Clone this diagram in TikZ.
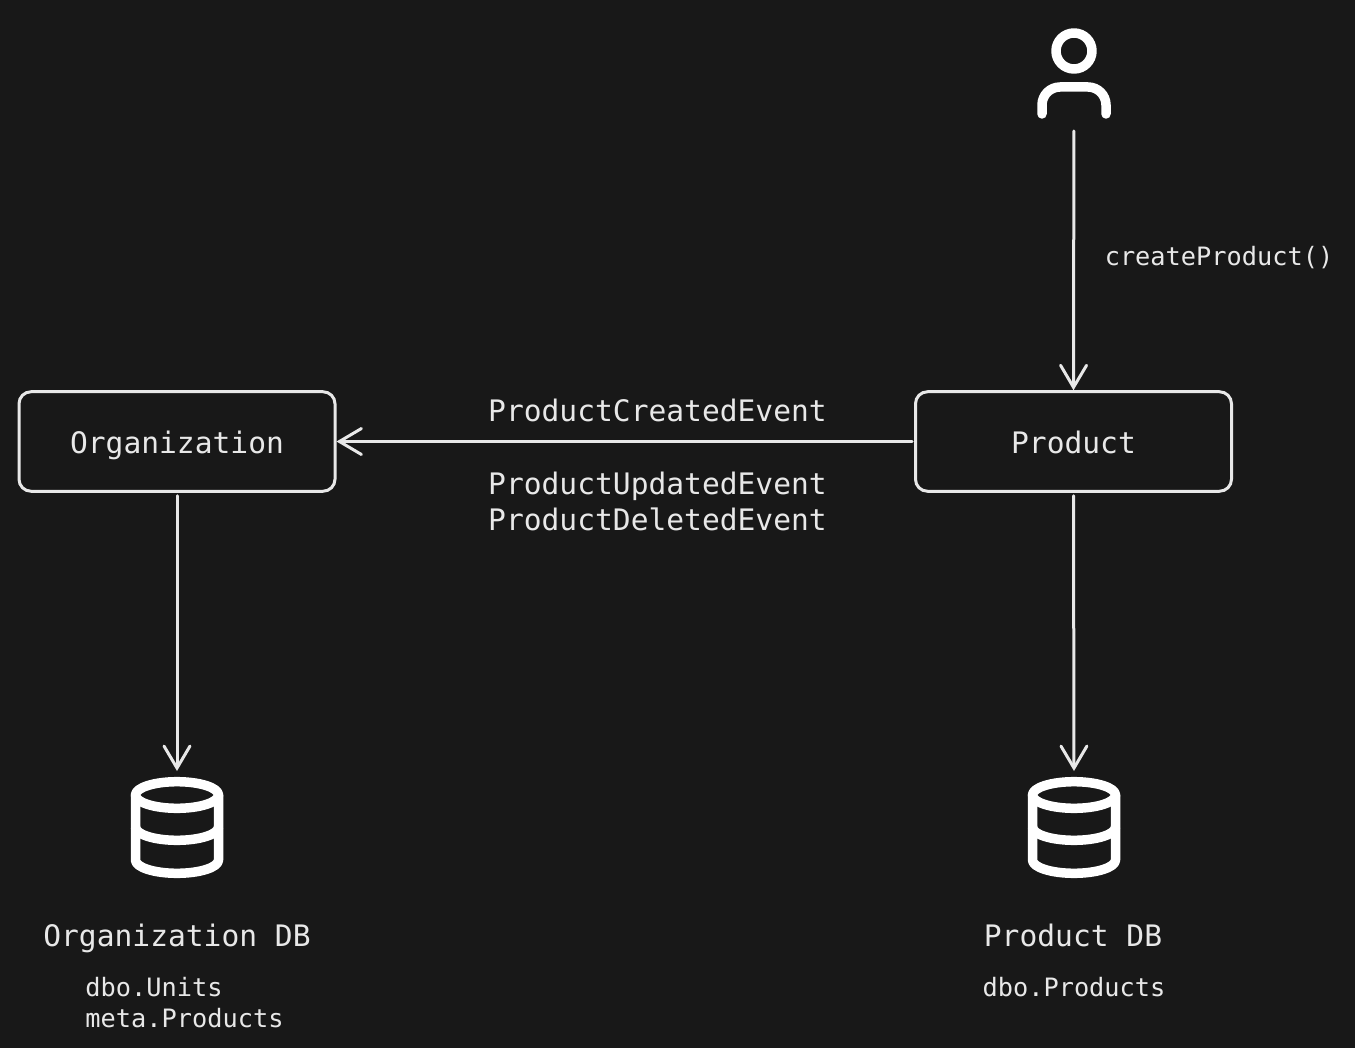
\documentclass[tikz,border=0pt]{standalone}
\usepackage{fontspec}
\setmonofont{DejaVu Sans Mono}
\usetikzlibrary{positioning, arrows.meta, calc}
\definecolor{kanvas}{HTML}{181818}
\definecolor{garis}{HTML}{E8E8E8}
\begin{document}
\begin{tikzpicture}[
		x=1pt, y=-1pt,
		kotak/.style={draw=garis, rectangle, rounded corners=12pt, minimum width=316pt, minimum height=99.5pt, inner sep=0pt, line width=3pt, text=garis, text height=24pt, text depth=0pt, font=\ttfamily\fontsize{29.6}{36.5}\selectfont},
		ikon/.style={rectangle, minimum width=92pt, inner sep=0pt, outer sep=0pt},
		judul/.style={text=garis, align=center, inner sep=0pt, anchor=base, font=\ttfamily\fontsize{29.6}{36.5}\selectfont},
		catatan/.style={text=garis, align=left, inner sep=0pt, anchor=base, font=\ttfamily\fontsize{25.3}{31}\selectfont},
		panah/.style={-{Straight Barb[length=22pt, width=26pt, line cap=round]}, draw=garis, line width=3pt, line cap=round},
		garisikon/.style={draw=white, line width=9.5pt, line cap=round, line join=round},
		orang/.pic={
			\draw[garisikon] (0,-22.5) circle[radius=18];
			\draw[garisikon] (-32,40.5) -- (-32,31.5) arc[start angle=180, end angle=270, radius=18] -- (14,13.5) arc[start angle=270, end angle=360, radius=18] -- (32,40.5);
		},
		tabung/.pic={
			\draw[garisikon] (0,-33) ellipse[x radius=41.5, y radius=13.3];
			\draw[garisikon] (-41.5,-33) -- (-41.5,32) arc[start angle=180, end angle=0, x radius=41.5, y radius=13.3] -- (41.5,-33);
			\draw[garisikon] (-41.5,-1) arc[start angle=180, end angle=0, x radius=41.5, y radius=13.3];
		}
	]
	\useasboundingbox[fill=kanvas] (0,0) rectangle (1355,1048);

	\node[kotak] (org) at (177,441.5) {Organization};
	\node[kotak] (product) at (1073.5,441.5) {Product};
	\node[ikon, minimum height=91pt] (user) at (1074,73.5) {};
	\node[ikon, minimum height=100pt] (orgdb) at (177,828) {};
	\node[ikon, minimum height=100pt] (productdb) at (1074,828) {};
	\pic at (user) {orang};
	\pic at (orgdb) {tabung};
	\pic at (productdb) {tabung};

	% Label basis data
	\node[judul] (orgdbname) at (177,946) {Organization DB};
	\node[judul] (productdbname) at (1073,946) {Product DB};
	\node[catatan] (orgunits) at (154,996) {dbo.Units};
	\node[catatan] (orgproducts) at (184.5,1027.5) {meta.Products};
	\node[catatan] (producttable) at (1074,996.5) {dbo.Products};

	% Label event
	\node[catatan] (create) at (1219,265.8) {createProduct()};
	\node[judul] (created) at (657.5,421.2) {ProductCreatedEvent};
	\node[judul] (updated) at (657.5,494) {ProductUpdatedEvent};
	\node[judul] (deleted) at (657.5,530.5) {ProductDeletedEvent};

	% Garis Alur
	\draw[panah, shorten <=12pt] (user) -- (product.north);
	\draw[panah, shorten <=2pt] (product.west) -- (org.east);
	\draw[panah, shorten <=3pt, shorten >=7pt] (org.south) -- (orgdb.north);
	\draw[panah, shorten <=3pt, shorten >=7pt] (product.south) -- (productdb.north);
\end{tikzpicture}
\end{document}
